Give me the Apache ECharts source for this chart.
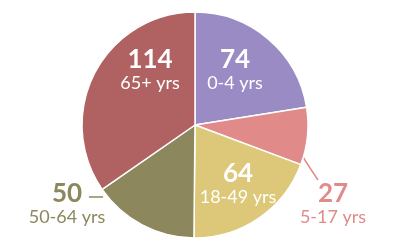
<!DOCTYPE html>
<html><head><meta charset="utf-8">
<script src="https://cdn.jsdelivr.net/npm/echarts@6/dist/echarts.min.js"></script>
<style>html,body{margin:0;padding:0;background:#fff}#c{width:400px;height:250px}</style>
</head><body><div id="c"></div>
<script>
const categories = ['0-4 yrs', '5-17 yrs', '18-49 yrs', '50-64 yrs', '65+ yrs'];
const values = [74, 27, 64, 50, 114];
const colors = ['#9b8bc4', '#e08b8a', '#dcc878', '#8c875c', '#b06262'];
const outside = [false, true, false, true, false];

// label block centres (layout only)
const labelPos = [[235, 70.5], [333, 204.5], [238, 184.5], [67, 204.5], [150, 70.5]];
const linePts = {
  1: [[303, 157], [310, 168], [318, 180]],
  3: [[103, 197], [96, 197], [89, 197]]
};

const chart = echarts.init(document.getElementById('c'), null, {renderer: 'canvas'});
const data = values.map((v, i) => {
  const out = outside[i];
  const txt = out ? colors[i] : '#ffffff';
  return {
    name: categories[i],
    value: v,
    itemStyle: {color: colors[i]},
    label: {
      position: out ? 'outside' : 'inside',
      rich: {
        a: {fontFamily: 'Lato', fontWeight: 'bold', fontSize: 26, color: txt, lineHeight: 25},
        b: {fontFamily: 'Lato', fontSize: 18, color: txt, lineHeight: 21}
      }
    },
    labelLine: {show: out, lineStyle: {color: colors[i], width: 1.5}}
  };
});

chart.setOption({
  animation: false,
  series: [{
    type: 'pie',
    center: [195, 125],
    radius: [0, 113],
    startAngle: 90,
    clockwise: true,
    itemStyle: {borderColor: '#ffffff', borderWidth: 1.5},
    label: {
      show: true,
      overflow: 'none',
      edgeDistance: 0,
      formatter: p => '{a|' + p.value + '}\n{b|' + p.name + '}',
      align: 'center'
    },
    labelLine: {smooth: false},
    labelLayout: function (p) {
      const pos = labelPos[p.dataIndex];
      const r = {x: pos[0], y: pos[1], align: 'center', verticalAlign: 'middle'};
      if (linePts[p.dataIndex]) r.labelLinePoints = linePts[p.dataIndex];
      return r;
    },
    emphasis: {disabled: true},
    data: data
  }]
});
</script></body></html>
